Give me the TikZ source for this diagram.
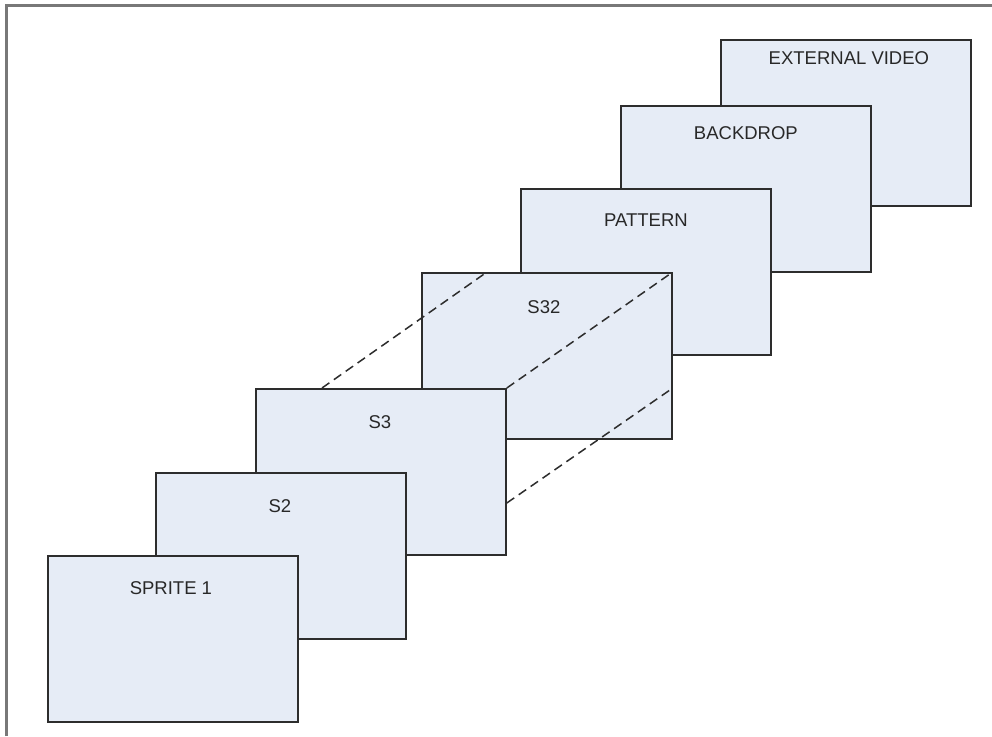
\documentclass[tikz,border=0pt]{standalone}
\usepackage{fontspec}
\setmainfont{Liberation Sans}
\usetikzlibrary{calc}
\definecolor{boxfill}{RGB}{230,236,246}
\definecolor{boxline}{RGB}{45,45,45}
\definecolor{frameline}{RGB}{120,120,120}
\definecolor{txt}{RGB}{40,40,40}
\tikzset{
  layer/.style={draw=boxline, fill=boxfill, line width=1.8pt, minimum width=250pt, minimum height=166pt, inner sep=0pt, anchor=north west},
  lbl/.style={text=txt, font=\fontsize{18.5}{21}\selectfont, inner sep=0pt, anchor=center},
  guide/.style={draw=boxline, line width=1.5pt, dash pattern=on 9pt off 5.5pt}
}
\begin{document}
\begin{tikzpicture}[x=1pt,y=-1pt]
\useasboundingbox (0,0) rectangle (992,736);
\fill[white] (0,0) rectangle (992,736);
\draw[frameline, line width=3pt] (6.5,736) -- (6.5,5.5) -- (992,5.5);

\node[layer] (ext) at (720,39) {};
\node[lbl] (extl) at ($(ext.north)+(3,19)$) {EXTERNAL VIDEO};
\node[layer] (back) at (620,105) {};
\node[lbl] (backl) at ($(back.north)+(0,28)$) {BACKDROP};
\node[layer] (pat) at (520,188) {};
\node[lbl] (patl) at ($(pat.north)+(0,32)$) {PATTERN};
\node[layer] (s32) at (421,272) {};
\node[lbl] (s32l) at ($(s32.north)+(-3,35)$) {S32};

\node[layer] (s3) at (255,388) {};
\coordinate (a1) at ($(s3.north west)+(67,0)$);
\coordinate (b1) at ($(s32.north west)+(66,0)$);
\coordinate (a3) at ($(s3.north east)+(0,115)$);
\coordinate (b3) at ($(s32.north east)+(0,116)$);
\draw[guide] (a1) -- (b1);
\draw[guide] (s3.north east) -- (s32.north east);
\draw[guide] (a3) -- (b3);
\node[lbl] (s3l) at ($(s3.north)+(-1,34)$) {S3};
\node[layer] (s2) at (155,472) {};
\node[lbl] (s2l) at ($(s2.north)+(-1,34)$) {S2};
\node[layer] (sp1) at (47,555) {};
\node[lbl] (sp1l) at ($(sp1.north)+(-2,33)$) {SPRITE 1};
\end{tikzpicture}
\end{document}
